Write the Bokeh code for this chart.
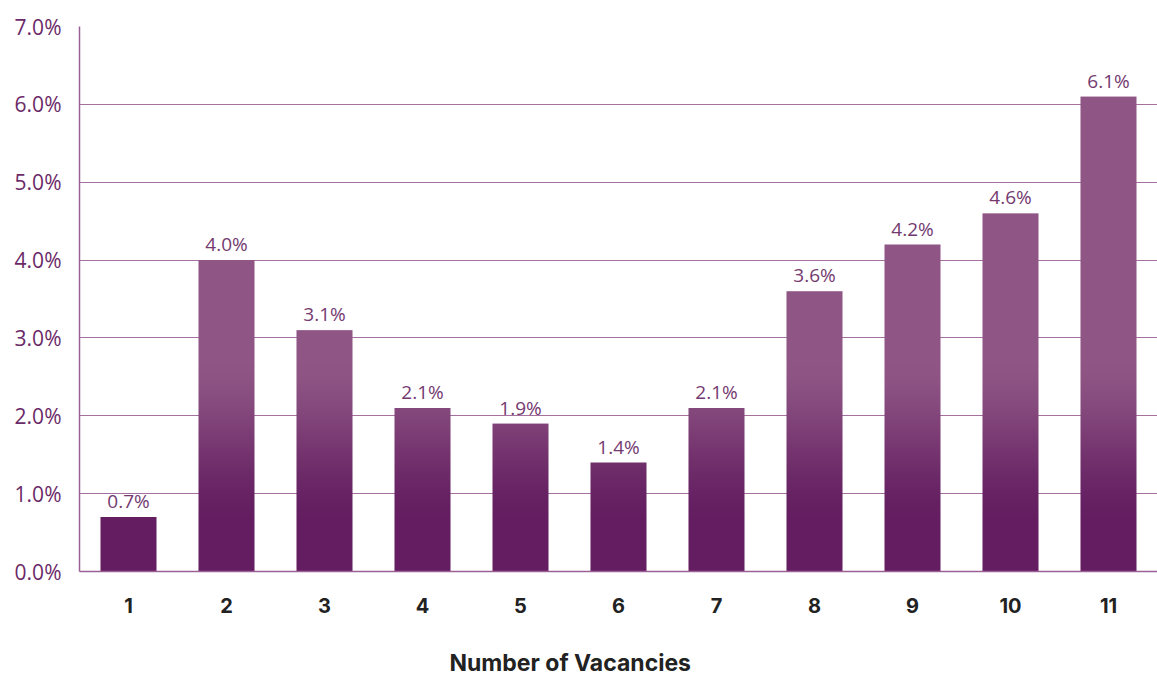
import numpy as np
from bokeh.plotting import figure
from bokeh.models import ColumnDataSource, FixedTicker, LabelSet, Title, CustomJSTickFormatter, Range1d
from bokeh.embed import file_html
from bokeh.resources import INLINE
from bokeh.core.properties import value

# ---- data ----
categories = ["1", "2", "3", "4", "5", "6", "7", "8", "9", "10", "11"]
values = [0.7, 4.0, 3.1, 2.1, 1.9, 1.4, 2.1, 3.6, 4.2, 4.6, 6.1]
y_ticks = [0, 1, 2, 3, 4, 5, 6, 7]
x_title = "Number of Vacancies"

# ---- gradient helpers (style only) ----
light = (0x8F, 0x56, 0x85)
dark = (0x63, 0x1D, 0x60)
g_lo, g_hi = 0.55, 2.8
bar_w = 4 / 7
px_per_unit = 78  # image resolution in rows per data unit


def grad_rgb(level):
    t = (level - g_lo) / (g_hi - g_lo)
    t = max(0.0, min(1.0, t))
    t = t * t * (3 - 2 * t)
    return [int(round(dark[i] + (light[i] - dark[i]) * t)) for i in range(3)]


xpos = list(range(1, len(categories) + 1))
images, img_x, img_dh = [], [], []
for xc, v in zip(xpos, values):
    rows = max(1, int(round(v * px_per_unit)))
    img = np.zeros((rows, 56), dtype=np.uint32)
    view = img.view(dtype=np.uint8).reshape((rows, 56, 4))
    for r in range(rows):
        lvl = (r + 0.5) / rows * v
        rgb = grad_rgb(lvl)
        view[r, :, 0] = rgb[0]
        view[r, :, 1] = rgb[1]
        view[r, :, 2] = rgb[2]
        view[r, :, 3] = 255
    images.append(img)
    img_x.append(xc - bar_w / 2)
    img_dh.append(v)

bars = ColumnDataSource(dict(image=images, x=img_x, y=[0] * len(values),
                             dw=[bar_w] * len(values), dh=img_dh))
labels = ColumnDataSource(dict(x=xpos, y=values, text=["%.1f%%" % v for v in values]))

p = figure(x_range=Range1d(0.5, len(categories) + 0.5), y_range=Range1d(0, 7),
           width=1157, height=678, output_backend="svg", toolbar_location=None,
           min_border_left=79, min_border_right=0, min_border_top=26, min_border_bottom=107)
p.outline_line_color = None

p.image_rgba(image="image", x="x", y="y", dw="dw", dh="dh", source=bars)

p.add_layout(LabelSet(x="x", y="y", text="text", source=labels, text_align="center",
                      text_baseline="bottom", y_offset=3, text_font_size="19px",
                      text_font=value("Open Sans"), text_color="#743a70"))

# spacer between the tick labels and the axis title
p.add_layout(Title(text=" ", standoff=18, text_font_size="10px"), "below")
p.add_layout(Title(text=x_title, align="left", offset=370, standoff=0,
                   text_font="Inter", text_font_style="bold", text_font_size="23px",
                   text_color="#222222"), "below")

# y axis
p.yaxis.ticker = FixedTicker(ticks=y_ticks)
p.yaxis.formatter = CustomJSTickFormatter(code="return tick.toFixed(1) + '%';")
p.yaxis.major_tick_line_color = None
p.yaxis.minor_tick_line_color = None
p.yaxis.axis_line_color = "#9b6196"
p.yaxis.axis_line_width = 1.5
p.yaxis.major_label_text_color = "#6b2a68"
p.yaxis.major_label_text_font = "Open Sans"
p.yaxis.major_label_text_font_size = "21px"
p.yaxis.major_label_standoff = 12

# x axis
p.xaxis.ticker = FixedTicker(ticks=xpos)
p.xaxis.major_label_overrides = {x: c for x, c in zip(xpos, categories)}
p.xaxis.major_tick_line_color = None
p.xaxis.minor_tick_line_color = None
p.xaxis.axis_line_color = "#9b6196"
p.xaxis.axis_line_width = 1.5
p.xaxis.major_label_text_color = "#222222"
p.xaxis.major_label_text_font = "Inter"
p.xaxis.major_label_text_font_style = "bold"
p.xaxis.major_label_text_font_size = "20px"
p.xaxis.major_label_standoff = 20

p.xgrid.grid_line_color = None
p.ygrid.grid_line_color = "#a470a0"
p.ygrid.grid_line_width = 1.2

open("out.html", "w").write(file_html(p, INLINE))
